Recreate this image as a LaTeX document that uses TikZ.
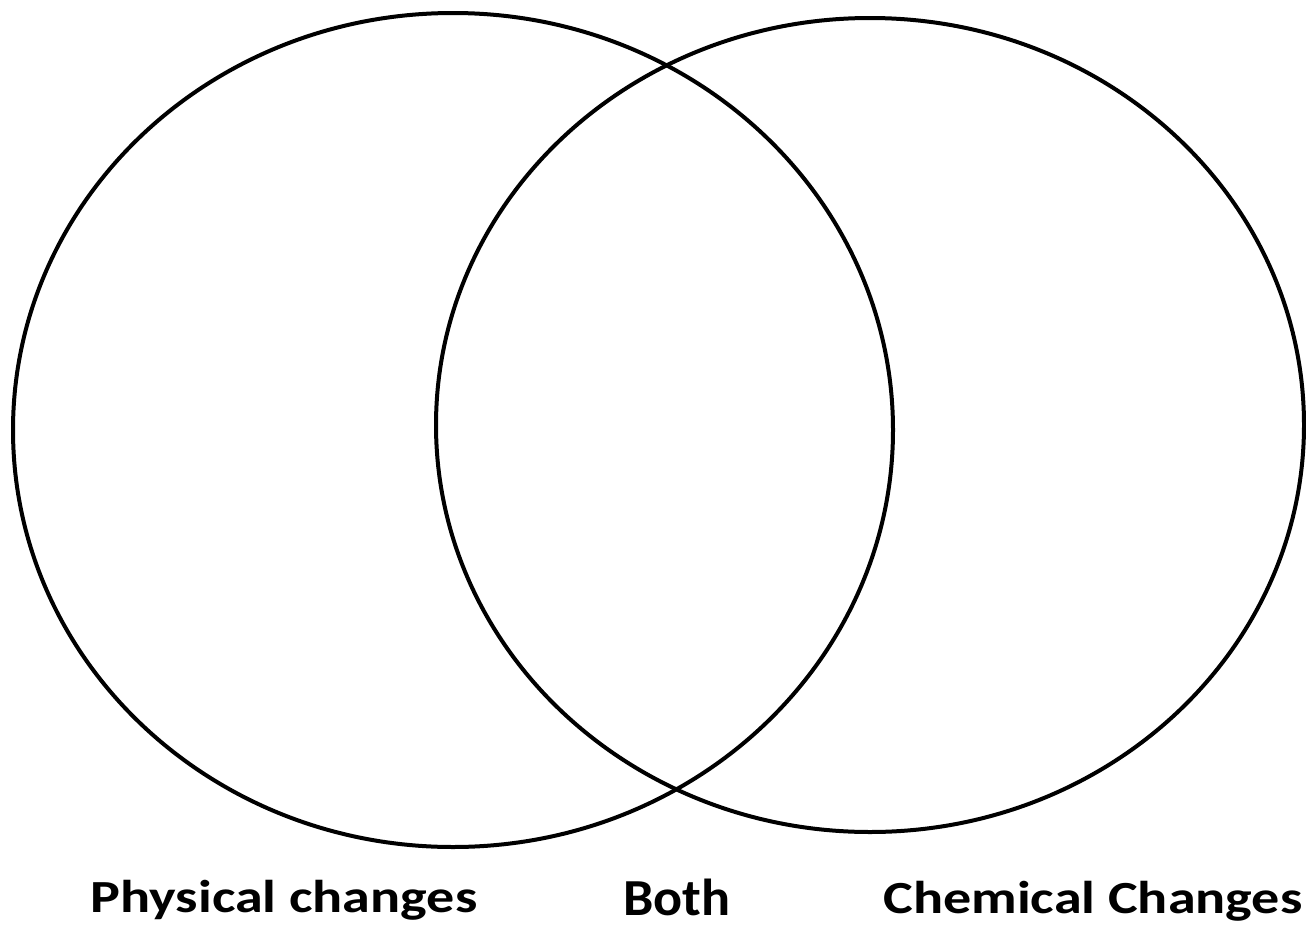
\documentclass[tikz,border=0pt]{standalone}
\usepackage{fontspec}
\usepackage{graphicx}
\setmainfont{Carlito}
\newcommand{\widetext}[1]{\scalebox{1.22}[1]{#1}}
\begin{document}
\begin{tikzpicture}[x=1pt,y=-1pt,
  ring/.style={draw=black,line width=4pt},
  lbl/.style={font=\bfseries\fontsize{46}{50}\selectfont,anchor=base,inner sep=0pt}]
\useasboundingbox (0,0) rectangle (1306,929);
\draw[ring] (453,430) ellipse [x radius=440,y radius=417];
\draw[ring] (870,425) ellipse [x radius=434,y radius=407];
\node[lbl] (phys) at (284,912) {\widetext{Physical changes}};
\node[lbl,font=\bfseries\fontsize{52}{56}\selectfont] (both) at (677,915) {\scalebox{1.04}[1]{Both}};
\node[lbl] (chem) at (1093,913) {\widetext{Chemical Changes}};
\end{tikzpicture}
\end{document}
